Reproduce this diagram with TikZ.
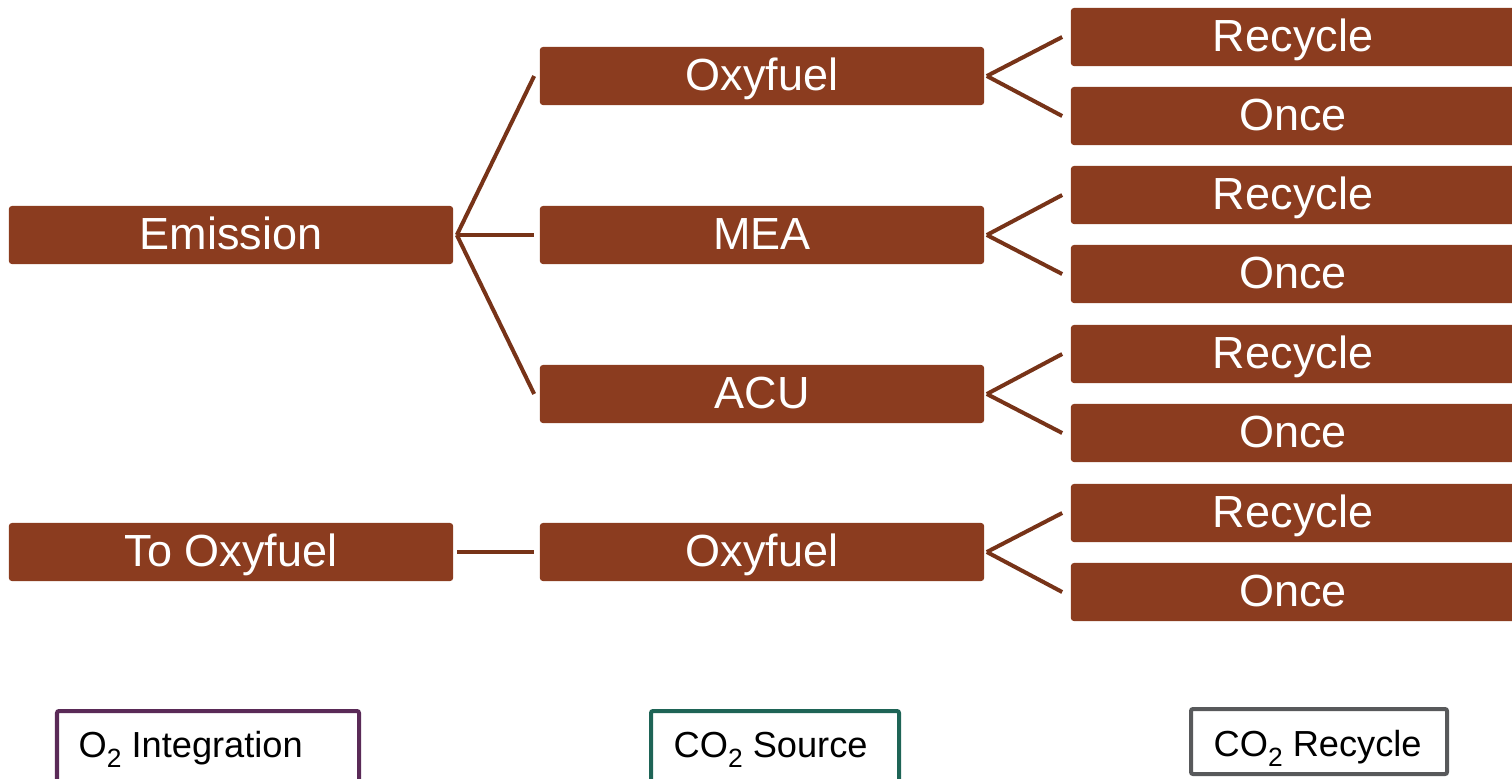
\documentclass[tikz,border=0pt]{standalone}
\usepackage{fontspec}
\setmainfont{Liberation Sans}
\usetikzlibrary{calc,positioning}
\definecolor{rust}{HTML}{8B3C1F}
\definecolor{rustline}{HTML}{773318}
\definecolor{plum}{HTML}{5A2A57}
\definecolor{pine}{HTML}{1E6456}
\definecolor{slate}{HTML}{58595B}
\newcommand{\lowtwo}{\raisebox{-3pt}{\fontsize{7.5}{8}\selectfont 2}}

\begin{document}
\begin{tikzpicture}[x=0.01cm, y=-0.01cm,
  blk/.style={fill=rust, rounded corners=0.03cm, minimum width=4.44cm, minimum height=0.58cm, inner sep=0pt, text height=0.36cm, text depth=0.08cm, text=white, font=\fontsize{12.8}{15}\selectfont},
  lnk/.style={draw=rustline, line width=0.04cm},
  keybox/.style={line width=0.04cm, rounded corners=0.02cm},
  key/.style={font=\fontsize{10.3}{12}\selectfont, anchor=base west, inner sep=0pt}]
\useasboundingbox (0,0) rectangle (1512,778);
\clip (0,0) rectangle (1512,778);
%O2 integration
\node[blk] (emis) at (231,235) {Emission};
\node[blk] (toox) at (231,552) {To Oxyfuel};
%CO2 source
\node[blk] (oxy) at (762,76) {Oxyfuel};
\node[blk] (mea) at (762,235) {MEA};
\node[blk] (acu) at (762,394) {ACU};
\node[blk] (oxyb) at (762,552) {Oxyfuel};
\foreach \s in {oxy, mea, acu}{\draw[lnk] ($(emis.east)+(3,0)$) -- ($(\s.west)+(-5,0)$);}
\draw[lnk] ($(toox.east)+(3,0)$) -- ($(oxyb.west)+(-5,0)$);
%CO2 recycle
\foreach \s/\y in {oxy/37, mea/195, acu/354, oxyb/513}{
  \node[blk] (\s-rec) at (1293,\y) {Recycle};
  \node[blk] (\s-once) at (1293,\y+79) {Once};
  \draw[lnk] ($(\s.east)+(2,0)$) -- ($(\s-rec.west)+(-8,0)$);
  \draw[lnk] ($(\s.east)+(2,0)$) -- ($(\s-once.west)+(-8,0)$);
}
%legend
\draw[keybox, plum] (57,711) rectangle (359,800);
\node[key] (o2key) at (78,757) {O\lowtwo{} Integration};
\draw[keybox, pine] (651,711) rectangle (899,800);
\node[key] (srckey) at (673,757) {CO\lowtwo{} Source};
\draw[keybox, slate] (1191,709) rectangle (1447,774);
\node[key] (reckey) at (1213,756) {CO\lowtwo{} Recycle};
\end{tikzpicture}
\end{document}
